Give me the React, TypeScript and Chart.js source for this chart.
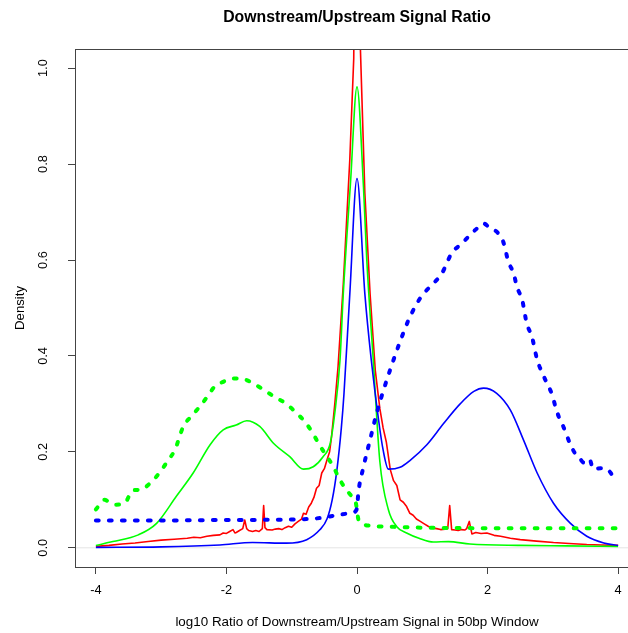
import React, { useEffect, useRef } from 'react';
import { Chart, registerables } from 'chart.js';

Chart.register(...registerables);

const xTicks = [-4, -2, 0, 2, 4];
const yTicks = [0, 0.2, 0.4, 0.6, 0.8, 1.0];

// Red solid
const redX = [-4, -3.8, -3.6, -3.4, -3.2, -3.0, -2.8, -2.6, -2.5, -2.4, -2.3, -2.2, -2.1, -2.05, -2.0, -1.95, -1.9, -1.87, -1.85, -1.8, -1.75, -1.72, -1.69, -1.66, -1.6, -1.55, -1.5, -1.45, -1.43, -1.41, -1.38, -1.3, -1.25, -1.2, -1.15, -1.1, -1.05, -1.0, -0.95, -0.9, -0.85, -0.82, -0.78, -0.74, -0.7, -0.66, -0.62, -0.58, -0.54, -0.5, -0.46, -0.42, -0.39, -0.34, -0.29, -0.21, -0.11, -0.05, 0, 0.05, 0.12, 0.2, 0.28, 0.35, 0.4, 0.45, 0.51, 0.56, 0.61, 0.66, 0.71, 0.76, 0.81, 0.86, 0.91, 0.97, 1.03, 1.09, 1.15, 1.22, 1.28, 1.35, 1.39, 1.42, 1.45, 1.5, 1.55, 1.6, 1.65, 1.68, 1.72, 1.76, 1.82, 1.9, 1.99, 2.1, 2.2, 2.35, 2.5, 2.75, 3.01, 3.25, 3.52, 3.75, 4];
const redY = [0.003, 0.005, 0.008, 0.010, 0.013, 0.016, 0.018, 0.020, 0.022, 0.021, 0.024, 0.026, 0.027, 0.031, 0.030, 0.034, 0.038, 0.031, 0.032, 0.036, 0.040, 0.058, 0.040, 0.036, 0.034, 0.036, 0.034, 0.040, 0.088, 0.042, 0.038, 0.037, 0.039, 0.040, 0.038, 0.042, 0.045, 0.043, 0.050, 0.055, 0.060, 0.072, 0.070, 0.085, 0.093, 0.105, 0.124, 0.130, 0.156, 0.165, 0.183, 0.200, 0.232, 0.300, 0.378, 0.550, 0.810, 1.020, 1.900, 1.050, 0.740, 0.530, 0.370, 0.290, 0.250, 0.220, 0.163, 0.140, 0.130, 0.100, 0.095, 0.086, 0.072, 0.068, 0.060, 0.055, 0.050, 0.045, 0.041, 0.040, 0.038, 0.039, 0.040, 0.088, 0.038, 0.037, 0.036, 0.038, 0.037, 0.040, 0.055, 0.029, 0.032, 0.030, 0.031, 0.026, 0.024, 0.020, 0.017, 0.014, 0.011, 0.009, 0.007, 0.006, 0.005];

// Green solid
const greenX = [-4, -3.74, -3.35, -3.07, -2.77, -2.51, -2.25, -2.05, -1.85, -1.69, -1.49, -1.28, -1.03, -0.82, -0.67, -0.52, -0.41, -0.34, -0.26, -0.21, -0.1, 0, 0.1, 0.15, 0.25, 0.35, 0.48, 0.61, 0.76, 0.95, 1.17, 1.4, 1.73, 2.5, 3.2, 4];
const greenY = [0.005, 0.013, 0.027, 0.051, 0.107, 0.156, 0.215, 0.246, 0.256, 0.265, 0.253, 0.218, 0.19, 0.164, 0.169, 0.19, 0.218, 0.281, 0.392, 0.53, 0.76, 0.961, 0.75, 0.6, 0.39, 0.18, 0.08, 0.044, 0.031, 0.02, 0.012, 0.013, 0.008, 0.005, 0.004, 0.003];

// Blue solid
const blueX = [-4, -3, -2.1, -1.6, -1.08, -0.77, -0.57, -0.46, -0.38, -0.31, -0.24, -0.2, -0.11, 0, 0.12, 0.22, 0.33, 0.4, 0.48, 0.66, 0.81, 1.07, 1.32, 1.58, 1.79, 1.94, 2.14, 2.35, 2.55, 2.76, 3.01, 3.27, 3.52, 3.78, 4];
const blueY = [0.001, 0.002, 0.006, 0.011, 0.0097, 0.017, 0.0375, 0.06, 0.1, 0.16, 0.25, 0.32, 0.53, 0.77, 0.53, 0.39, 0.267, 0.204, 0.164, 0.168, 0.182, 0.215, 0.258, 0.30, 0.326, 0.333, 0.322, 0.287, 0.225, 0.156, 0.093, 0.051, 0.024, 0.01, 0.005];

// Green dashed
const greenDashX = [-4.0, -3.87, -3.76, -3.69, -3.56, -3.43, -3.30, -3.2, -3.07, -2.89, -2.79, -2.66, -2.54, -2.43, -2.31, -2.18, -2.05, -1.9, -1.72, -1.56, -1.41, -1.26, -1.10, -0.95, -0.80, -0.69, -0.59, -0.48, -0.36, -0.29, -0.18, -0.08, -0.02, 0.02, 0.07, 0.2, 0.5, 1.0, 2.0, 3.0, 4.0];
const greenDashY = [0.08, 0.10, 0.092, 0.09, 0.093, 0.12, 0.121, 0.131, 0.149, 0.183, 0.204, 0.253, 0.274, 0.291, 0.312, 0.336, 0.346, 0.353, 0.351, 0.34, 0.328, 0.314, 0.302, 0.284, 0.263, 0.242, 0.218, 0.194, 0.169, 0.149, 0.124, 0.107, 0.095, 0.06, 0.051, 0.046, 0.044, 0.042, 0.041, 0.041, 0.041];

// Blue dashed
const blueDashX = [-4, -3, -2, -1, -0.57, -0.31, -0.06, 0.0, 0.02, 0.1, 0.2, 0.3, 0.4, 0.53, 0.66, 0.79, 0.92, 1.02, 1.17, 1.30, 1.45, 1.61, 1.73, 1.84, 1.94, 2.04, 2.14, 2.24, 2.32, 2.40, 2.45, 2.53, 2.60, 2.68, 2.76, 2.83, 2.91, 2.99, 3.04, 3.10, 3.16, 3.27, 3.34, 3.42, 3.47, 3.56, 3.62, 3.73, 3.80, 3.87, 3.92, 3.97];
const blueDashY = [0.057, 0.057, 0.058, 0.059, 0.062, 0.068, 0.074, 0.082, 0.114, 0.169, 0.225, 0.28, 0.326, 0.38, 0.43, 0.475, 0.51, 0.53, 0.551, 0.572, 0.614, 0.635, 0.652, 0.666, 0.676, 0.666, 0.659, 0.638, 0.596, 0.572, 0.544, 0.517, 0.468, 0.44, 0.392, 0.367, 0.343, 0.319, 0.294, 0.27, 0.253, 0.215, 0.197, 0.185, 0.178, 0.185, 0.164, 0.166, 0.166, 0.159, 0.149, 0.135];

const zeroX = [-4.32, 4.32];
const zeroY = [0, 0];

const pts = (xs: number[], ys: number[]) => xs.map((x, i) => ({ x, y: ys[i] }));

const FONT = "'Liberation Sans', Arimo, Arial, Helvetica, sans-serif";

export default function App() {
  const ref = useRef<HTMLCanvasElement>(null);

  useEffect(() => {
    const canvas = ref.current;
    if (!canvas) return;

    const boxPlugin = {
      id: 'rbox',
      afterDatasetsDraw(chart: any) {
        const { ctx, chartArea: a } = chart;
        ctx.save();
        ctx.strokeStyle = '#444';
        ctx.lineWidth = 1;
        ctx.strokeRect(Math.round(a.left) + 0.5, Math.round(a.top) + 0.5, Math.round(a.right - a.left), Math.round(a.bottom - a.top));
        ctx.restore();
      },
    };

    const solid = (data: any, color: string, mono: boolean) => ({
      data,
      borderColor: color,
      backgroundColor: color,
      borderWidth: 1.6,
      pointRadius: 0,
      fill: false,
      clip: 0,
      cubicInterpolationMode: mono ? 'monotone' : 'default',
      tension: 0,
      borderJoinStyle: 'round',
    });
    const dashed = (data: any, color: string) => ({
      data,
      borderColor: color,
      backgroundColor: color,
      borderWidth: 4,
      borderDash: [2.8, 10.2],
      borderCapStyle: 'round',
      borderJoinStyle: 'round',
      pointRadius: 0,
      fill: false,
      clip: 0,
      cubicInterpolationMode: 'monotone',
    });

    const chart = new Chart(canvas, {
      type: 'line',
      data: {
        datasets: [
          dashed(pts(blueDashX, blueDashY), '#0000FF'),
          dashed(pts(greenDashX, greenDashY), '#00FF00'),
          solid(pts(blueX, blueY), '#0000FF', true),
          solid(pts(greenX, greenY), '#00FF00', true),
          solid(pts(redX, redY), '#FF0000', false),
          { ...solid(pts(zeroX, zeroY), '#e4e4e4', false), borderWidth: 1 },
        ] as any,
      },
      options: {
        responsive: false,
        animation: false,
        devicePixelRatio: 1,
        layout: { padding: { left: 0, right: 75, top: 0, bottom: 0 } },
        plugins: {
          legend: { display: false },
          tooltip: { enabled: false },
          title: {
            display: true,
            text: 'Downstream/Upstream Signal Ratio',
            fullSize: false,
            color: '#000',
            font: { family: FONT, size: 15.8, weight: 'bold', lineHeight: 1.2 },
            padding: { top: 8, bottom: 22 },
          },
        },
        scales: {
          x: {
            type: 'linear',
            min: -4.32,
            max: 4.32,
            afterBuildTicks: (s: any) => { s.ticks = xTicks.map((v) => ({ value: v })); },
            afterFit: (s: any) => { s.height = 66; },
            grid: { display: true, drawOnChartArea: false, drawTicks: true, tickLength: 7, tickColor: '#444', color: '#444' },
            border: { display: false },
            ticks: {
              color: '#000',
              font: { family: FONT, size: 12.8 },
              padding: 8.5,
              maxRotation: 0,
              autoSkip: false,
              callback: (v: any) => String(v),
            },
            title: {
              display: true,
              text: 'log10 Ratio of Downstream/Upstream Signal in 50bp Window',
              color: '#000',
              font: { family: FONT, size: 13.4 },
              padding: { top: 0, bottom: 3 },
            },
          },
          y: {
            type: 'linear',
            min: -0.04,
            max: 1.04,
            afterBuildTicks: (s: any) => { s.ticks = yTicks.map((v) => ({ value: v })); },
            afterFit: (s: any) => { s.width = 75; },
            grid: { display: true, drawOnChartArea: false, drawTicks: true, tickLength: 7, tickColor: '#444', color: '#444' },
            border: { display: false },
            ticks: {
              color: '#000',
              font: { family: FONT, size: 12.8 },
              padding: 15.5,
              minRotation: 90,
              maxRotation: 90,
              crossAlign: 'center',
              autoSkip: false,
              callback: (v: any) => Number(v).toFixed(1),
            },
            title: {
              display: true,
              text: 'Density',
              color: '#000',
              font: { family: FONT, size: 13.2 },
              padding: { top: 12, bottom: 0 },
            },
          },
        },
      } as any,
      plugins: [boxPlugin],
    });

    return () => chart.destroy();
  }, []);

  return (
    <div style={{ position: 'fixed', left: 0, top: 0, width: 628, height: 633, overflow: 'hidden', background: '#fff' }}>
      <canvas ref={ref} width={714} height={633} style={{ display: 'block', width: 714, height: 633 }} />
    </div>
  );
}
